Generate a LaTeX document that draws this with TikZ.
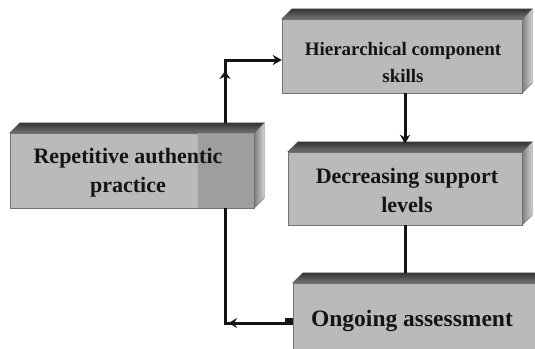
\documentclass[tikz,border=0pt]{standalone}
\usepackage{fontspec}
\setmainfont{Liberation Serif}
\usetikzlibrary{arrows.meta,decorations.markings,calc}
\tikzset{
  face/.style={fill=black!27, draw=black!55, line width=0.4pt, inner sep=0pt},
  topc/.style={top color=black!80, bottom color=black!55, draw=black!65, line width=0.4pt},
  sidec/.style={left color=black!50, right color=black!18, draw=black!65, line width=0.4pt},
  txt/.style={font=\bfseries, align=center, text=black!92, inner sep=0pt},
  conn/.style={line width=3pt, draw=black!92},
  tip/.style={-{Stealth[length=9pt,width=10pt]}}
}
\newcommand\boxdepth[1]{%
  \path[topc] (#1.north west) -- ++(10,-10) -- ([shift={(10,-10)}]#1.north east) -- (#1.north east) -- cycle;
  \path[sidec] (#1.north east) -- ++(10,-10) -- ([shift={(10,-10)}]#1.south east) -- (#1.south east) -- cycle;
}
\begin{document}
\begin{tikzpicture}[x=1pt,y=-1pt]
\useasboundingbox (0,0) rectangle (535,348);
\clip (0,0) rectangle (535,348);
\fill[white] (0,0) rectangle (535,348);

% Hierarchical component skills
\node[face, minimum width=240pt, minimum height=74pt] (h) at (402,56) {};
\boxdepth{h}
\node[txt, font=\bfseries\fontsize{19}{27}\selectfont] (ht) at (403,62) {Hierarchical component\\skills};

% Decreasing support levels
\node[face, minimum width=234pt, minimum height=73pt] (d) at (405,188.5) {};
\boxdepth{d}
\node[txt, font=\bfseries\fontsize{22}{29}\selectfont] (dt) at (407,190) {Decreasing support\\levels};

% Ongoing assessment
\node[face, minimum width=250pt, minimum height=78pt] (o) at (418,322) {};
\boxdepth{o}
\node[txt, font=\bfseries\fontsize{23.5}{26}\selectfont] (ot) at (412,321) {Ongoing assessment};

% Repetitive authentic practice
\node[face, minimum width=244pt, minimum height=75pt] (r) at (132,170.5) {};
\fill[black!38] ([xshift=-56pt]r.north east) rectangle (r.south east);
\boxdepth{r}
\node[txt, font=\bfseries\fontsize{22}{29}\selectfont] (rt) at (128,173) {Repetitive authentic\\practice};

% junction column
\coordinate (jx) at (225,0);
\coordinate (up) at (225,60);

% connectors
\draw[conn, tip] ([yshift=10pt]r.north -| jx) -- (up) -- (up -| h.west);
\draw[conn, -{Stealth[length=8pt,width=11pt]}] ([yshift=10pt]r.north -| jx) -- ([yshift=-3pt]up |- 0,68);
\draw[conn, tip] (h.south -| d.north) -- ([yshift=8pt]d.north);
\draw[conn] (d.south) -- ([yshift=10pt]o.north -| d.south);
\draw[conn, postaction={decorate},
  decoration={markings, mark=at position 0.35 with {\arrow{Stealth[length=8pt,width=10pt]}}}]
  ([yshift=-1pt]o.west) -| (r.south -| jx);
\fill[black!92] ([shift={(-8,-4)}]o.west) rectangle ([shift={(0,3)}]o.west);
\end{tikzpicture}
\end{document}
